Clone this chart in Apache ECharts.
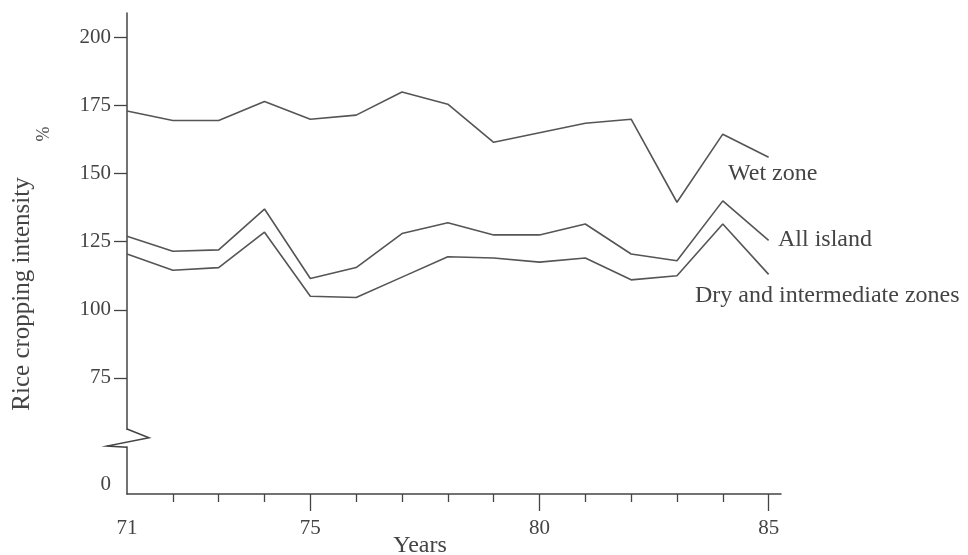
<!DOCTYPE html>
<html>
<head>
<meta charset="utf-8">
<script src="https://cdn.jsdelivr.net/npm/echarts@6/dist/echarts.min.js"></script>
<style>html,body{margin:0;padding:0;background:#fff;}#c{width:968px;height:555px;}</style>
</head>
<body>
<div id="c"></div>
<script>
const years = [71,72,73,74,75,76,77,78,79,80,81,82,83,84,85];
const wetZone = [173,169.5,169.5,176.5,170,171.5,180,175.5,161.5,165,168.5,170,139.5,164.5,156];
const allIsland = [127,121.5,122,137,111.5,115.5,128,132,127.5,127.5,131.5,120.5,118,140,125.5];
const dryZones = [120.5,114.5,115.5,128.5,105,104.5,112,119.5,119,117.5,119,111,112.5,131.5,113];
const xLabels = [71,75,80,85];
const xMajorTicks = [75,80,85];
const xMinorTicks = [72,73,74,76,77,78,79,81,82,83,84];
const yTicks = [75,100,125,150,175,200];
const zeroLabelPos = 36;   // position of the "0" label below the axis break
const seriesNames = ['Wet zone','All island','Dry and intermediate zones'];

const serif = '"Liberation Serif", "Times New Roman", serif';
const ink = '#444';
const lineCol = '#555';

const chart = echarts.init(document.getElementById('c'), null, {renderer:'canvas'});
const mk = (name, vals) => ({
  name, type:'line', data: years.map((y,i)=>[y, vals[i]]),
  showSymbol:false, symbol:'none', smooth:false,
  lineStyle:{color:lineCol, width:1.6}, xAxisIndex:0, yAxisIndex:0, animation:false
});

chart.setOption({
  animation:false,
  backgroundColor:'#fff',
  grid:{left:127, right:187, top:13, bottom:61},
  xAxis:[{
    type:'value', min:71, max:85.27,
    axisLine:{show:true, lineStyle:{color:ink, width:1.5}},
    axisTick:{show:true, customValues:xMajorTicks, length:17, lineStyle:{color:ink, width:1.3}},
    axisLabel:{show:true, customValues:xLabels, margin:24, color:ink, fontFamily:serif, fontSize:21},
    splitLine:{show:false}
  },{
    type:'value', min:71, max:85.27, position:'bottom',
    axisLine:{show:false},
    axisTick:{show:true, customValues:xMinorTicks, length:8, lineStyle:{color:ink, width:1.3}},
    axisLabel:{show:false},
    splitLine:{show:false}
  }],
  yAxis:[{
    type:'value', min:32.35, max:209,
    axisLine:{show:true, lineStyle:{color:ink, width:1.5}},
    axisTick:{show:true, customValues:yTicks, length:13, lineStyle:{color:ink, width:1.3}},
    axisLabel:{show:true, customValues:[zeroLabelPos].concat(yTicks), margin:16, color:ink,
      fontFamily:serif, fontSize:21,
      formatter:v => (Math.abs(v-zeroLabelPos)<0.01 ? '0' : String(v))},
    splitLine:{show:false}
  }],
  series:[mk(seriesNames[0], wetZone), mk(seriesNames[1], allIsland), mk(seriesNames[2], dryZones)]
});

// axis break decoration and texts
const x0 = chart.convertToPixel({xAxisIndex:0}, 71);
const yb1 = chart.convertToPixel({yAxisIndex:0}, 56.2);
const yb2 = chart.convertToPixel({yAxisIndex:0}, 49.5);
const txt = (text, x, y, size, opts) => Object.assign({
  type:'text', x, y, silent:true,
  style:{text, fill:ink, font: size+'px ' + serif, align:'left', verticalAlign:'middle'}
}, opts||{});
chart.setOption({
  graphic:[
    {type:'rect', shape:{x:x0-3, y:yb1+1, width:6, height:yb2-yb1-2}, style:{fill:'#fff'}, z:100, silent:true},
    {type:'polyline', shape:{points:[[x0,yb1],[x0+22,yb1+8.7],[x0-20,yb2-1.3],[x0,yb2]]},
      style:{stroke:ink, lineWidth:1.5, fill:null}, z:101, silent:true},
    txt(seriesNames[0], 728, 174, 24),
    txt(seriesNames[1], 778, 240, 24),
    txt(seriesNames[2], 695, 296, 24),
    txt('Years', 420, 546, 24, {style:{text:'Years', fill:ink, font:'24px '+serif, align:'center', verticalAlign:'middle'}}),
    txt('Rice cropping intensity', 22, 294, 25, {rotation:Math.PI/2,
      style:{text:'Rice cropping intensity', fill:ink, font:'25px '+serif, align:'center', verticalAlign:'middle'}}),
    txt('%', 44, 134, 18, {rotation:Math.PI/2,
      style:{text:'%', fill:ink, font:'18px '+serif, align:'center', verticalAlign:'middle'}})
  ]
});
</script>
</body>
</html>
